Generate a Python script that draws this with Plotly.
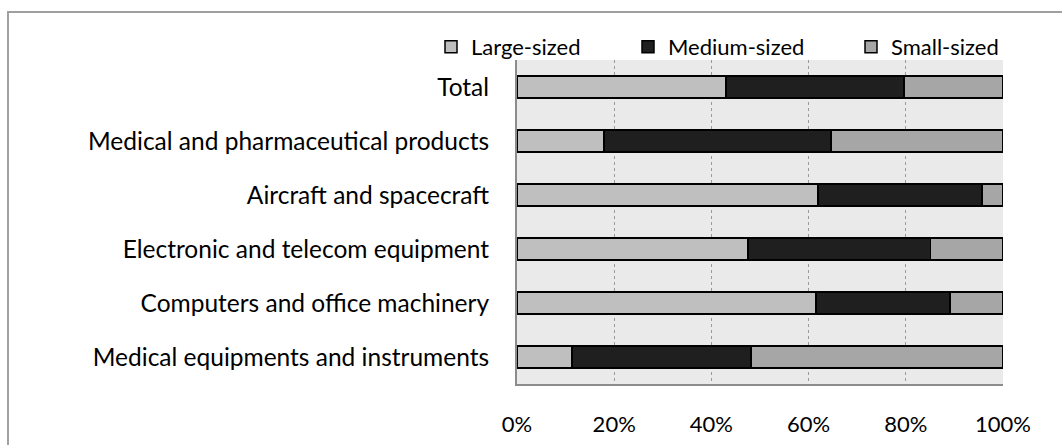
import plotly.graph_objects as go

# Share of output by company size, per high-tech sector (percent)
categories = [
    "Total",
    "Medical and pharmaceutical products",
    "Aircraft and spacecraft",
    "Electronic and telecom equipment",
    "Computers and office machinery",
    "Medical equipments and instruments",
]
large_sized = [43.0, 17.9, 61.9, 47.5, 61.5, 11.3]
medium_sized = [36.6, 46.7, 33.8, 37.6, 27.6, 36.8]
small_sized = [20.4, 35.4, 4.3, 14.9, 10.9, 51.9]

x_ticks = [0, 20, 40, 60, 80, 100]
x_tick_labels = ["0%", "20%", "40%", "60%", "80%", "100%"]

FONT = "Lato"
series = [
    ("Large-sized", large_sized, "#BFBFBF", "legend"),
    ("Medium-sized", medium_sized, "#1F1F1F", "legend2"),
    ("Small-sized", small_sized, "#A6A6A6", "legend3"),
]

fig = go.Figure()
for name, vals, color, leg in series:
    fig.add_trace(go.Bar(
        y=categories, x=vals, name=name, orientation="h",
        marker=dict(color=color, line=dict(color="#000000", width=1.5)),
        width=0.41, legend=leg, showlegend=True,
    ))

W, H = 1062, 445
L, R, T, B = 517, 59, 60, 61
pw, ph = W - L - R, H - T - B


def px_x(x):
    return (x - L) / pw


def px_y(y):
    return (H - B - y) / ph


legend_common = dict(
    orientation="h", yanchor="middle", xanchor="left",
    xref="container", yref="container",
    bgcolor="rgba(0,0,0,0)", font=dict(family=FONT, size=22, color="#000000"),
    itemwidth=30, tracegroupgap=0,
)
LEG_Y = 1 - 47 / H

fig.update_layout(
    width=W, height=H,
    margin=dict(l=L, r=R, t=T, b=B, autoexpand=False),
    paper_bgcolor="#FFFFFF", plot_bgcolor="#EAEAEA",
    barmode="stack", bargap=0.59, showlegend=True,
    font=dict(family=FONT, size=20, color="#000000"),
    legend=dict(x=431 / W, y=LEG_Y, **legend_common),
    legend2=dict(x=628 / W, y=LEG_Y, **legend_common),
    legend3=dict(x=851 / W, y=LEG_Y, **legend_common),
    xaxis=dict(
        range=[0, 100], tickvals=x_ticks, ticktext=x_tick_labels,
        showgrid=True, gridcolor="#9A9A9A", griddash="dot", gridwidth=1,
        showline=True, linecolor="#8C8C8C", linewidth=2,
        ticks="", ticklabelstandoff=20, zeroline=False, automargin=False,
        tickfont=dict(family=FONT, size=22),
    ),
    yaxis=dict(
        categoryorder="array", categoryarray=categories[::-1],
        showline=True, linecolor="#8C8C8C", linewidth=2,
        ticks="", ticklabelstandoff=21, showgrid=False, automargin=False,
        tickfont=dict(family=FONT, size=24.5),
    ),
    shapes=[
        dict(type="rect", xref="paper", yref="paper",
             x0=px_x(8), x1=px_x(1200), y0=px_y(600), y1=px_y(12),
             line=dict(color="#A0A0A0", width=2), fillcolor="rgba(0,0,0,0)",
             layer="below"),
    ],
)

fig.write_html("out.html")
